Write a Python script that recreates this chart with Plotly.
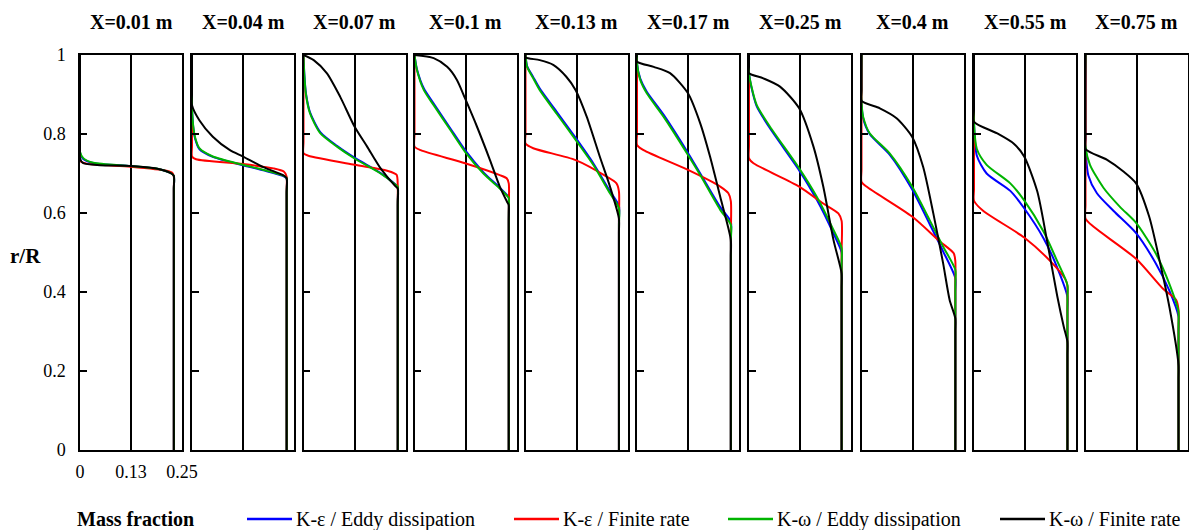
import plotly.graph_objects as go

# ---------------- data ----------------
PANEL_TITLES = ["X=0.01 m", "X=0.04 m", "X=0.07 m", "X=0.1 m", "X=0.13 m",
                "X=0.17 m", "X=0.25 m", "X=0.4 m", "X=0.55 m", "X=0.75 m"]
SERIES_NAMES = ["K-ε / Eddy dissipation", "K-ε / Finite rate",
                "K-ω / Eddy dissipation", "K-ω / Finite rate"]
X_TICK_VALS = [0, 0.125, 0.25]
X_TICK_TEXT = ["0", "0.13", "0.25"]
Y_TICK_VALS = [0, 0.2, 0.4, 0.6, 0.8, 1]
Y_TICK_TEXT = ["0", "0.2", "0.4", "0.6", "0.8", "1"]
X_LABEL = "Mass fraction"
Y_LABEL = "r/R"

# K-epsilon / Eddy dissipation (blue)
ke_eddy_mf = [
    [0, 0, 0, 0.008, 0.035, 0.124, 0.195, 0.224, 0.230, 0.230, 0.230],
    [0, 0, 0, 0.003, 0.008, 0.018, 0.051, 0.125, 0.175, 0.225, 0.232, 0.232, 0.232],
    [0, 0.002, 0.006, 0.016, 0.041, 0.082, 0.125, 0.189, 0.225, 0.231, 0.231, 0.231],
    [0, 0.006, 0.023, 0.047, 0.088, 0.124, 0.169, 0.209, 0.229, 0.231, 0.231, 0.231],
    [0, 0.004, 0.019, 0.035, 0.076, 0.123, 0.166, 0.207, 0.229, 0.229, 0.229],
    [0, 0, 0.008, 0.024, 0.065, 0.125, 0.155, 0.204, 0.230, 0.230, 0.230],
    [0, 0, 0.006, 0.019, 0.051, 0.123, 0.166, 0.207, 0.227, 0.227, 0.227],
    [0, 0, 0.004, 0.020, 0.069, 0.124, 0.167, 0.200, 0.230, 0.230, 0.230],
    [0, 0, 0.007, 0.031, 0.089, 0.123, 0.171, 0.204, 0.229, 0.229, 0.229],
    [0, 0, 0.007, 0.028, 0.069, 0.124, 0.172, 0.205, 0.228, 0.228, 0.228],
]
ke_eddy_r = [
    [1, 0.780, 0.752, 0.737, 0.726, 0.719, 0.711, 0.700, 0.694, 0.660, 0],
    [1, 0.900, 0.870, 0.818, 0.787, 0.762, 0.742, 0.721, 0.708, 0.693, 0.687, 0.650, 0],
    [1, 0.952, 0.903, 0.855, 0.805, 0.770, 0.740, 0.701, 0.673, 0.667, 0.630, 0],
    [1, 0.964, 0.915, 0.877, 0.814, 0.759, 0.703, 0.664, 0.643, 0.640, 0.600, 0],
    [1, 0.972, 0.944, 0.915, 0.857, 0.790, 0.726, 0.655, 0.618, 0.580, 0],
    [1, 0.979, 0.940, 0.907, 0.849, 0.752, 0.700, 0.615, 0.578, 0.540, 0],
    [1, 0.954, 0.918, 0.870, 0.815, 0.708, 0.634, 0.548, 0.500, 0.460, 0],
    [1, 0.880, 0.840, 0.800, 0.748, 0.660, 0.572, 0.503, 0.435, 0.400, 0],
    [1, 0.827, 0.745, 0.700, 0.656, 0.612, 0.535, 0.462, 0.388, 0.350, 0],
    [1, 0.768, 0.695, 0.650, 0.605, 0.549, 0.473, 0.405, 0.338, 0.300, 0],
]

# K-epsilon / Finite rate (red)
ke_finite_mf = [
    [0, 0, 0, 0.016, 0.124, 0.212, 0.226, 0.230, 0.230, 0.230],
    [0, 0, 0, 0.010, 0.125, 0.200, 0.225, 0.232, 0.232, 0.232],
    [0, 0, 0, 0.012, 0.125, 0.205, 0.228, 0.231, 0.231, 0.231],
    [0, 0, 0, 0.015, 0.124, 0.209, 0.226, 0.231, 0.231, 0.231],
    [0, 0, 0, 0.019, 0.123, 0.199, 0.223, 0.229, 0.229, 0.229],
    [0, 0, 0, 0.016, 0.125, 0.204, 0.224, 0.230, 0.230, 0.230],
    [0, 0, 0, 0.011, 0.123, 0.182, 0.219, 0.227, 0.227, 0.227],
    [0, 0, 0, 0.012, 0.124, 0.192, 0.226, 0.230, 0.230, 0.230],
    [0, 0, 0, 0.023, 0.123, 0.190, 0.224, 0.229, 0.229, 0.229],
    [0, 0, 0, 0.020, 0.124, 0.190, 0.222, 0.228, 0.228, 0.228],
]
ke_finite_r = [
    [1, 0.760, 0.732, 0.725, 0.717, 0.707, 0.702, 0.692, 0.660, 0],
    [1, 0.770, 0.743, 0.736, 0.724, 0.713, 0.705, 0.692, 0.660, 0],
    [1, 0.780, 0.751, 0.745, 0.722, 0.707, 0.697, 0.670, 0.630, 0],
    [1, 0.800, 0.768, 0.759, 0.726, 0.696, 0.688, 0.675, 0.600, 0],
    [1, 0.800, 0.776, 0.764, 0.734, 0.692, 0.675, 0.655, 0.580, 0],
    [1, 0.800, 0.772, 0.759, 0.709, 0.667, 0.650, 0.630, 0.540, 0],
    [1, 0.770, 0.738, 0.726, 0.667, 0.624, 0.599, 0.580, 0.500, 0],
    [1, 0.710, 0.679, 0.667, 0.591, 0.528, 0.498, 0.478, 0.420, 0],
    [1, 0.660, 0.631, 0.605, 0.538, 0.475, 0.432, 0.415, 0.360, 0],
    [1, 0.620, 0.586, 0.565, 0.484, 0.408, 0.380, 0.355, 0.300, 0],
]

# K-omega / Eddy dissipation (green)
kw_eddy_mf = [
    [0, 0, 0, 0.008, 0.033, 0.124, 0.195, 0.224, 0.230, 0.230, 0.230],
    [0, 0, 0, 0.003, 0.008, 0.018, 0.051, 0.125, 0.175, 0.225, 0.232, 0.232, 0.232],
    [0, 0.002, 0.006, 0.016, 0.041, 0.082, 0.125, 0.189, 0.225, 0.231, 0.231, 0.231],
    [0, 0.006, 0.023, 0.047, 0.088, 0.124, 0.169, 0.209, 0.229, 0.231, 0.231, 0.231],
    [0, 0.004, 0.019, 0.035, 0.076, 0.123, 0.166, 0.207, 0.229, 0.229, 0.229],
    [0, 0, 0.008, 0.024, 0.065, 0.125, 0.155, 0.204, 0.230, 0.230, 0.230],
    [0, 0, 0.006, 0.019, 0.051, 0.123, 0.166, 0.207, 0.227, 0.227, 0.227],
    [0, 0, 0.004, 0.020, 0.069, 0.124, 0.167, 0.200, 0.230, 0.230, 0.230],
    [0, 0, 0.007, 0.031, 0.089, 0.123, 0.171, 0.204, 0.229, 0.229, 0.229],
    [0, 0, 0.011, 0.044, 0.085, 0.124, 0.172, 0.205, 0.228, 0.228, 0.228],
]
kw_eddy_r = [
    [1, 0.780, 0.755, 0.739, 0.727, 0.719, 0.711, 0.700, 0.694, 0.660, 0],
    [1, 0.900, 0.870, 0.820, 0.790, 0.764, 0.743, 0.722, 0.709, 0.694, 0.688, 0.650, 0],
    [1, 0.950, 0.900, 0.852, 0.802, 0.768, 0.738, 0.700, 0.672, 0.666, 0.630, 0],
    [1, 0.962, 0.911, 0.873, 0.810, 0.755, 0.700, 0.662, 0.641, 0.638, 0.600, 0],
    [1, 0.970, 0.941, 0.911, 0.852, 0.785, 0.722, 0.650, 0.612, 0.570, 0],
    [1, 0.979, 0.937, 0.903, 0.844, 0.747, 0.696, 0.608, 0.570, 0.530, 0],
    [1, 0.954, 0.920, 0.873, 0.819, 0.713, 0.641, 0.557, 0.511, 0.470, 0],
    [1, 0.882, 0.844, 0.802, 0.751, 0.667, 0.582, 0.515, 0.456, 0.420, 0],
    [1, 0.827, 0.762, 0.722, 0.675, 0.632, 0.552, 0.478, 0.418, 0.380, 0],
    [1, 0.768, 0.722, 0.664, 0.615, 0.575, 0.498, 0.422, 0.350, 0.320, 0],
]

# K-omega / Finite rate (black)
kw_finite_mf = [
    [0, 0, 0, 0.008, 0.049, 0.124, 0.195, 0.224, 0.230, 0.230, 0.230],
    [0, 0, 0, 0.018, 0.051, 0.093, 0.125, 0.175, 0.225, 0.232, 0.232, 0.232],
    [0, 0.025, 0.057, 0.090, 0.125, 0.156, 0.189, 0.225, 0.231, 0.231, 0.231],
    [0, 0.047, 0.080, 0.104, 0.124, 0.153, 0.185, 0.209, 0.227, 0.231, 0.231, 0.231],
    [0, 0, 0.035, 0.068, 0.100, 0.123, 0.150, 0.182, 0.207, 0.229, 0.229, 0.229],
    [0, 0, 0.041, 0.081, 0.125, 0.155, 0.179, 0.204, 0.230, 0.230, 0.230],
    [0, 0, 0, 0.035, 0.076, 0.123, 0.158, 0.182, 0.207, 0.227, 0.227, 0.227],
    [0, 0, 0, 0.045, 0.086, 0.124, 0.151, 0.176, 0.200, 0.216, 0.230, 0.230, 0.230],
    [0, 0, 0, 0.056, 0.097, 0.123, 0.155, 0.179, 0.204, 0.220, 0.229, 0.229, 0.229],
    [0, 0, 0, 0.052, 0.093, 0.124, 0.156, 0.183, 0.206, 0.228, 0.228, 0.228],
]
kw_finite_r = [
    [1, 0.760, 0.738, 0.726, 0.721, 0.719, 0.711, 0.700, 0.694, 0.660, 0],
    [1, 0.900, 0.873, 0.835, 0.793, 0.759, 0.743, 0.716, 0.695, 0.688, 0.650, 0],
    [1, 0.987, 0.954, 0.894, 0.819, 0.768, 0.713, 0.668, 0.662, 0.620, 0],
    [1, 0.992, 0.970, 0.937, 0.890, 0.819, 0.734, 0.667, 0.628, 0.620, 0.580, 0],
    [1, 0.994, 0.987, 0.975, 0.945, 0.911, 0.844, 0.743, 0.667, 0.586, 0.550, 0],
    [1, 0.983, 0.970, 0.954, 0.903, 0.827, 0.743, 0.641, 0.532, 0.490, 0],
    [1, 0.970, 0.954, 0.941, 0.920, 0.865, 0.768, 0.667, 0.532, 0.447, 0.410, 0],
    [1, 0.910, 0.884, 0.865, 0.840, 0.793, 0.717, 0.599, 0.473, 0.380, 0.333, 0.300, 0],
    [1, 0.860, 0.831, 0.802, 0.776, 0.743, 0.655, 0.530, 0.390, 0.312, 0.274, 0.240, 0],
    [1, 0.790, 0.762, 0.735, 0.705, 0.675, 0.591, 0.473, 0.360, 0.215, 0.180, 0],
]

# ---------------- styling / layout ----------------
W, H = 1189, 530
FONT = "'Liberation Serif', 'Times New Roman', Times, serif"
COLORS = ["#0000ff", "#ff0000", "#00b400", "#000000"]
SERIES_MF = [ke_eddy_mf, ke_finite_mf, kw_eddy_mf, kw_finite_mf]
SERIES_R = [ke_eddy_r, ke_finite_r, kw_eddy_r, kw_finite_r]

PANEL_LEFT_PX = [80, 192, 303.5, 414.5, 525.5, 637, 749, 861.5, 974, 1085.5]
PANEL_W_PX = 102
TOP_PX, BOTTOM_PX = 55, 450
YDOM = [1 - BOTTOM_PX / H, 1 - TOP_PX / H]

fig = go.Figure()
layout = dict(
    width=W, height=H, margin=dict(l=0, r=0, t=0, b=0, autoexpand=False),
    paper_bgcolor="white", plot_bgcolor="white", showlegend=False,
    font=dict(family=FONT, color="black"),
)
annotations = []
shapes = []

for i in range(len(PANEL_TITLES)):
    n = "" if i == 0 else str(i + 1)
    xa, ya = "xaxis" + n, "yaxis" + n
    x0 = PANEL_LEFT_PX[i] / W
    x1 = (PANEL_LEFT_PX[i] + PANEL_W_PX) / W
    layout[xa] = dict(
        domain=[x0, x1], range=[0, 0.25], anchor="y" + n, automargin=False,
        tickvals=X_TICK_VALS, ticktext=X_TICK_TEXT,
        showticklabels=(i == 0), ticks="",
        tickfont=dict(size=18, family=FONT), ticklabelstandoff=5,
        showgrid=True, gridcolor="black", gridwidth=1.5,
        showline=True, mirror=True, linecolor="black", linewidth=1.5,
        zeroline=False, fixedrange=True,
    )
    layout[ya] = dict(
        domain=YDOM, range=[0, 1], anchor="x" + n, automargin=False,
        tickvals=Y_TICK_VALS, ticktext=Y_TICK_TEXT,
        showticklabels=(i == 0), ticks="inside", ticklen=7, tickwidth=1.5,
        tickcolor="black", tickfont=dict(size=18, family=FONT),
        ticklabelstandoff=9,
        showgrid=False, showline=True, mirror=True, linecolor="black",
        linewidth=1.5, zeroline=False, fixedrange=True,
    )
    for s in range(4):
        fig.add_trace(go.Scatter(
            x=SERIES_MF[s][i], y=SERIES_R[s][i], mode="lines",
            name=SERIES_NAMES[s], legendgroup=SERIES_NAMES[s],
            line=dict(color=COLORS[s], width=2, shape="spline", smoothing=0.7),
            xaxis="x" + n, yaxis="y" + n, hoverinfo="skip",
        ))
    annotations.append(dict(
        x=(x0 + x1) / 2, y=1 - 22 / H, xref="paper", yref="paper",
        text="<b>" + PANEL_TITLES[i] + "</b>", showarrow=False,
        font=dict(size=20, family=FONT), xanchor="center", yanchor="middle",
    ))

# y-axis label
annotations.append(dict(x=25 / W, y=1 - 256 / H, xref="paper", yref="paper",
                        text="<b>" + Y_LABEL + "</b>", showarrow=False,
                        font=dict(size=21, family=FONT),
                        xanchor="center", yanchor="middle"))
# bottom legend row
LEG_Y = 1 - 519 / H
annotations.append(dict(x=75 / W, y=LEG_Y, xref="paper", yref="paper",
                        text="<b>" + X_LABEL + "</b>", showarrow=False,
                        font=dict(size=20, family=FONT),
                        xanchor="left", yanchor="middle"))
LEG_LINE_X = [247, 514, 728, 1000]
for s in range(4):
    lx = LEG_LINE_X[s]
    shapes.append(dict(type="line", xref="paper", yref="paper",
                       x0=lx / W, x1=(lx + 45) / W, y0=LEG_Y, y1=LEG_Y,
                       line=dict(color=COLORS[s], width=2.5)))
    annotations.append(dict(x=(lx + 47) / W, y=LEG_Y, xref="paper", yref="paper",
                            text=SERIES_NAMES[s], showarrow=False,
                            font=dict(size=20, family=FONT),
                            xanchor="left", yanchor="middle"))

layout["annotations"] = annotations
layout["shapes"] = shapes
fig.update_layout(**layout)
fig.write_html("out.html")
